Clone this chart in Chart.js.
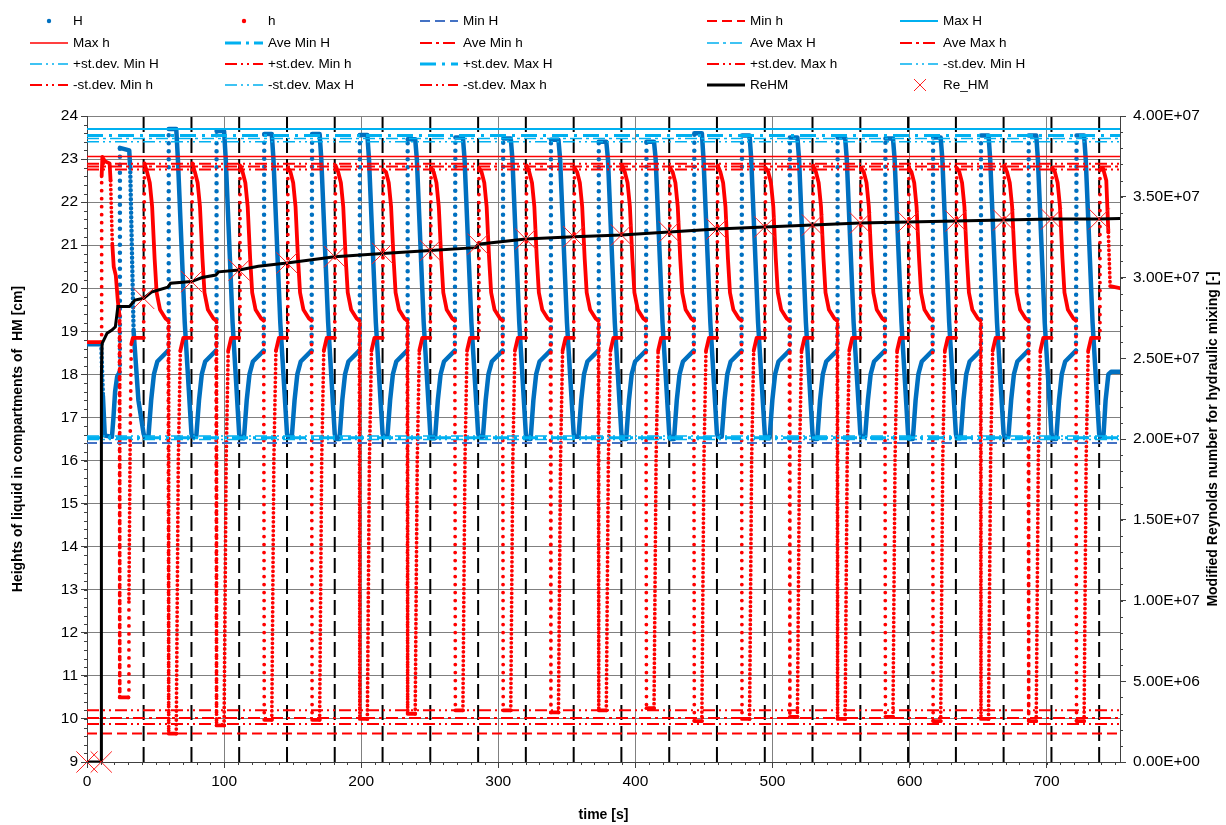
<!DOCTYPE html>
<html>
<head>
<meta charset="utf-8">
<script src="https://cdn.jsdelivr.net/npm/chart.js@4.4.1/dist/chart.umd.min.js"></script>
<style>
  html, body { margin: 0; padding: 0; background: #fff; }
  canvas { display: block; }
</style>
</head>
<body>
<canvas id="hmChart" width="1226" height="825"></canvas>
<script>
// start of every filling cycle [s] (dashed lines / Re_HM markers)
const cycleStart = [10.4, 41.3, 76.2, 111.0, 145.9, 180.7, 215.6, 250.4, 285.3, 320.1, 355.0,
  389.8, 424.7, 459.5, 494.4, 529.2, 564.1, 598.9, 633.8, 668.6, 703.5, 738.3];

// first cycle, read point by point
const hFirstT = [0, 10.3, 10.7, 11.2, 13.0, 16.5, 17.2, 18.5, 19.5, 21.0, 22.5, 23.6, 23.9, 30.2, 30.6, 31.5, 32.3, 33.5];
const hFirstV = [18.75, 18.75, 22.6, 23.05, 22.95, 22.9, 22.5, 21.0, 20.5, 20.3, 19.7, 19.4, 10.5, 10.5, 12.8, 16.5, 18.7, 18.85];
const HFirstT = [0, 10.4, 11.6, 13.0, 18.2, 19.3, 20.5, 22.0, 23.7, 24.0, 30.8, 31.5, 34.0, 37.5];
const HFirstV = [18.7, 18.7, 17.5, 16.58, 16.55, 17.0, 17.6, 17.95, 18.05, 23.26, 23.2, 22.8, 19.0, 17.4];

// shape of one regular cycle (time after cycle start, level)
const hShapeDt = [0, 0.6, 2.5, 4.5, 6.2, 8.0, 9.5, 12.0, 16.0, 17.9, 18.3, 23.8, 25.3, 26.8, 29.0];
const hShapeV = [18.85, 'top', 22.7, 22.45, 21.9, 20.7, 19.9, 19.5, 19.3, 19.25, 'bottom', 'bottom', 16.0, 18.55, 18.85];
const HShapeDt = [0, 0.8, 3.5, 5.5, 7.5, 10.0, 17.9, 18.3, 23.8, 25.0, 30.0];
const HShapeV = [16.62, 'bottom', 'bottom', 17.4, 18.0, 18.3, 18.55, 'top', 'top', 23.0, 19.2];

// per cycle levels, cycles 2..21
const hTop = [22.9, 22.9, 22.85, 22.8, 22.85, 22.75, 22.8, 22.8, 22.85, 22.8, 22.85, 22.8, 22.85, 22.8, 22.85, 22.8, 22.8, 22.8, 22.85, 22.8];
const hBottom = [9.66, 9.85, 9.98, 9.98, 10.0, 10.12, 10.2, 10.2, 10.15, 10.2, 10.25, 9.95, 10.0, 10.05, 10.0, 10.05, 9.95, 10.0, 9.95, 9.95];
const HTop = [23.70, 23.65, 23.58, 23.58, 23.56, 23.46, 23.50, 23.48, 23.45, 23.40, 23.40, 23.60, 23.55, 23.50, 23.50, 23.48, 23.50, 23.55, 23.55, 23.55];
const HBottom = [16.55, 16.55, 16.52, 16.55, 16.5, 16.55, 16.52, 16.55, 16.5, 16.55, 16.5, 16.5, 16.55, 16.52, 16.5, 16.55, 16.5, 16.52, 16.55, 16.5];

// last (unfinished) cycle
const hTailT = [738.3, 738.9, 741.0, 743.5, 745.0, 746.3, 753.5];
const hTailV = [18.85, 22.75, 22.8, 22.5, 21.3, 20.05, 20.0];
const HTailT = [738.3, 739.1, 741.5, 743.0, 745.0, 747.0, 753.5];
const HTailV = [16.62, 16.55, 16.6, 17.4, 18.0, 18.06, 18.06];

// statistics of the extremes [cm]
const statLabels = ['Min H', 'Min h', 'Max H', 'Max h', 'Ave Min H', 'Ave Min h', 'Ave Max H', 'Ave Max h',
  '+st.dev. Min H', '+st.dev. Min h', '+st.dev. Max H', '+st.dev. Max h',
  '-st.dev. Min H', '-st.dev. Min h', '-st.dev. Max H', '-st.dev. Max h'];
const statValues = [16.41, 9.66, 23.70, 23.06, 16.53, 10.02, 23.48, 22.83,
  16.57, 10.20, 23.55, 22.89, 16.49, 9.88, 23.40, 22.76];

// modified Reynolds number
const reHmT = [0, 10.3, 10.5, 11.0, 14.6, 18.2, 20.7, 21.5, 22.5, 31.0, 35.0, 41.3, 47.0, 59.0, 61.0, 76.2, 84.0, 94.0, 96.0, 111.0,
  125.0, 145.9, 180.7, 215.6, 250.4, 283.5, 285.3, 320.1, 355.0, 389.8, 424.7, 459.5, 494.4, 529.2, 564.1, 598.9, 633.8, 668.6, 703.5, 738.3, 753.5];
const reHmV = [0, 0, 2.40e7, 2.59e7, 2.654e7, 2.675e7, 2.695e7, 2.75e7, 2.82e7, 2.82e7, 2.86e7, 2.871e7, 2.91e7, 2.94e7, 2.965e7, 2.975e7, 3.0e7, 3.015e7, 3.035e7, 3.046e7,
  3.07e7, 3.09e7, 3.129e7, 3.149e7, 3.167e7, 3.185e7, 3.206e7, 3.238e7, 3.253e7, 3.263e7, 3.282e7, 3.300e7, 3.313e7, 3.325e7, 3.337e7, 3.344e7, 3.350e7, 3.356e7, 3.362e7, 3.362e7, 3.365e7];
const reMarkT = [0, 10.4].concat(cycleStart.slice(1));
const reMarkV = [0, 0, 2.871e7, 2.975e7, 3.046e7, 3.09e7, 3.129e7, 3.149e7, 3.167e7, 3.206e7, 3.238e7, 3.253e7,
  3.263e7, 3.282e7, 3.300e7, 3.313e7, 3.325e7, 3.337e7, 3.344e7, 3.350e7, 3.356e7, 3.362e7, 3.362e7];

const X_MAX = 753.5;
const FONT = '"Liberation Sans", Arial, sans-serif';
const RED = '#FF0000', BLUE = '#0070C0', CYAN = '#00B0F0', MINBLUE = '#4472C4';

function pairs(t, v) { return t.map((x, i) => ({ x, y: v[i] })); }

function series(firstT, firstV, shapeDt, shapeV, tops, bottoms, tailT, tailV) {
  const pts = pairs(firstT, firstV);
  cycleStart.slice(1, 21).forEach((t0, k) => {
    shapeDt.forEach((dt, j) => {
      const s = shapeV[j];
      pts.push({ x: t0 + dt, y: s === 'top' ? tops[k] : s === 'bottom' ? bottoms[k] : s });
    });
  });
  return pts.concat(pairs(tailT, tailV));
}

// steep parts were sampled at a distance -> dots, the fastest jumps very sparse
const dotted = ctx => {
  const dx = Math.abs(ctx.p1.x - ctx.p0.x), dy = Math.abs(ctx.p1.y - ctx.p0.y);
  if (dy < 15 || dy < 30 * dx) return undefined;
  return dx < 1.2 ? [0, 8] : [0, 4.5];
};

const statStyle = {
  'Min H': [MINBLUE, 2, [10, 5]], 'Min h': [RED, 2, [10, 5]],
  'Max H': [CYAN, 2, []], 'Max h': [RED, 1.5, []],
  'Ave Min H': [CYAN, 3, [16, 5, 3, 5]], 'Ave Min h': [RED, 2, [12, 4, 3, 4]],
  'Ave Max H': [CYAN, 1.5, [12, 4, 3, 4]], 'Ave Max h': [RED, 2, [12, 4, 3, 4]],
  '+st.dev. Min H': [CYAN, 1.5, [12, 4, 2, 4, 2, 4]], '+st.dev. Min h': [RED, 2, [12, 4, 2, 4, 2, 4]],
  '+st.dev. Max H': [CYAN, 3, [16, 6, 3, 6]], '+st.dev. Max h': [RED, 2, [12, 4, 2, 4, 2, 4]],
  '-st.dev. Min H': [CYAN, 1.5, [12, 4, 2, 4, 2, 4]], '-st.dev. Min h': [RED, 2, [12, 4, 2, 4, 2, 4]],
  '-st.dev. Max H': [CYAN, 1.5, [12, 4, 2, 4, 2, 4]], '-st.dev. Max h': [RED, 2, [12, 4, 2, 4, 2, 4]]
};

// legend order follows the original workbook
const legendOrder = ['H', 'h', 'Min H', 'Min h', 'Max H', 'Max h', 'Ave Min H', 'Ave Min h', 'Ave Max H', 'Ave Max h',
  '+st.dev. Min H', '+st.dev. Min h', '+st.dev. Max H', '+st.dev. Max h',
  '-st.dev. Min H', '-st.dev. Min h', '-st.dev. Max H', '-st.dev. Max h', 'ReHM', 'Re_HM'];

const datasets = legendOrder.map(label => {
  if (label === 'H' || label === 'h') {
    const big = label === 'H';
    return {
      label, legendMark: 'dot',
      data: big ? series(HFirstT, HFirstV, HShapeDt, HShapeV, HTop, HBottom, HTailT, HTailV)
                : series(hFirstT, hFirstV, hShapeDt, hShapeV, hTop, hBottom, hTailT, hTailV),
      showLine: true, borderColor: big ? BLUE : RED, backgroundColor: big ? BLUE : RED,
      borderWidth: big ? 4.5 : 3.8, pointRadius: 0, borderCapStyle: 'round', borderJoinStyle: 'round',
      segment: { borderDash: dotted }, yAxisID: 'y'
    };
  }
  if (label === 'ReHM') {
    return { label, data: pairs(reHmT, reHmV), showLine: true, borderColor: '#000', borderWidth: 3,
      pointRadius: 0, yAxisID: 'y2' };
  }
  if (label === 'Re_HM') {
    return { label, legendMark: 'cross', data: pairs(reMarkT, reMarkV), showLine: false, clip: false,
      pointStyle: 'crossRot', pointRadius: 15, pointBorderWidth: 1, borderColor: '#FF2020',
      pointBorderColor: '#FF2020', borderWidth: 1, yAxisID: 'y2' };
  }
  const v = statValues[statLabels.indexOf(label)];
  const [color, width, dash] = statStyle[label];
  return { label, data: [{ x: 0, y: v }, { x: X_MAX, y: v }], showLine: true, borderColor: color,
    borderWidth: width, borderDash: dash, pointRadius: 0, yAxisID: 'y' };
});
// later series drawn on top, like the spreadsheet
datasets.forEach((ds, i) => { ds.order = 50 - i; });

// vertical error bars of Re_HM
const bars = [];
cycleStart.slice(1).forEach(t => { bars.push({ x: t, y: 9 }, { x: t, y: 24 }, { x: t, y: null }); });
datasets.push({ label: 'bars', data: bars, showLine: true, spanGaps: false, borderColor: '#000',
  borderWidth: 2, borderDash: [15, 6], pointRadius: 0, yAxisID: 'y', order: 100 });

const legendCols = [30, 225, 420, 707, 900];
const legendRows = [21, 43, 64, 85];

const xlLegend = {
  id: 'xlLegend',
  afterDraw(chart) {
    const ctx = chart.ctx;
    ctx.save();
    ctx.font = '13.5px ' + FONT;
    ctx.textBaseline = 'middle';
    chart.data.datasets.slice(0, 20).forEach((ds, i) => {
      const x0 = legendCols[i % 5], y = legendRows[Math.floor(i / 5)];
      if (ds.legendMark === 'dot') {
        ctx.fillStyle = ds.borderColor;
        ctx.beginPath(); ctx.arc(x0 + 19, y, 2.2, 0, Math.PI * 2); ctx.fill();
      } else if (ds.legendMark === 'cross') {
        ctx.strokeStyle = ds.borderColor; ctx.lineWidth = 1;
        ctx.beginPath();
        ctx.moveTo(x0 + 14, y - 6); ctx.lineTo(x0 + 26, y + 6);
        ctx.moveTo(x0 + 26, y - 6); ctx.lineTo(x0 + 14, y + 6);
        ctx.stroke();
      } else {
        ctx.strokeStyle = ds.borderColor; ctx.lineWidth = ds.borderWidth;
        ctx.setLineDash(ds.borderDash || []);
        ctx.beginPath(); ctx.moveTo(x0, y); ctx.lineTo(x0 + 38, y); ctx.stroke();
        ctx.setLineDash([]);
      }
      ctx.fillStyle = '#000';
      ctx.fillText(ds.label, x0 + 43, y);
    });
    ctx.restore();
  }
};

const axisDecor = {
  id: 'axisDecor',
  afterDraw(chart) {
    const { ctx, chartArea: a, scales } = chart;
    ctx.save();
    // minor ticks
    ctx.strokeStyle = '#404040'; ctx.lineWidth = 1;
    ctx.beginPath();
    for (let v = 9; v <= 24.001; v += 0.2) {
      const y = Math.round(scales.y.getPixelForValue(v)) + 0.5;
      ctx.moveTo(a.left - 3, y); ctx.lineTo(a.left, y);
    }
    for (let v = 0; v <= 4e7; v += 1e6) {
      const y = Math.round(scales.y2.getPixelForValue(v)) + 0.5;
      ctx.moveTo(a.right, y); ctx.lineTo(a.right + 3, y);
    }
    for (let v = 0; v <= X_MAX; v += 10) {
      const x = Math.round(scales.x.getPixelForValue(v)) + 0.5;
      ctx.moveTo(x, a.bottom); ctx.lineTo(x, a.bottom + 3);
    }
    ctx.stroke();
    // axis titles
    ctx.fillStyle = '#000';
    ctx.font = 'bold 14px ' + FONT;
    ctx.textAlign = 'center'; ctx.textBaseline = 'middle';
    const cy = (a.top + a.bottom) / 2;
    ctx.fillText('time [s]', (a.left + a.right) / 2, 815);
    ctx.save();
    ctx.translate(18, cy); ctx.rotate(-Math.PI / 2);
    ctx.fillText('Heights of liquid in compartments of  HM [cm]', 0, 0);
    ctx.restore();
    ctx.save();
    ctx.translate(1213, cy); ctx.rotate(-Math.PI / 2);
    ctx.fillText('Modified Reynolds number for hydraulic mixing [-]', 0, 0);
    ctx.restore();
    ctx.restore();
  }
};

const sci = v => {
  const [m, e] = v.toExponential(2).split('e');
  const n = parseInt(e, 10);
  return m + 'E' + (n < 0 ? '-' : '+') + String(Math.abs(n)).padStart(2, '0');
};

const tickFont = { family: FONT, size: 15.5 };

new Chart(document.getElementById('hmChart'), {
  type: 'scatter',
  data: { datasets },
  options: {
    responsive: false,
    animation: false,
    layout: { padding: { top: 116, left: 0, right: 0, bottom: 0 } },
    plugins: { legend: { display: false }, tooltip: { enabled: false } },
    scales: {
      x: {
        type: 'linear', min: 0, max: X_MAX,
        afterBuildTicks: s => { s.ticks = s.ticks.filter(t => t.value % 100 === 0); },
        afterFit: s => { s.height = 63; },
        ticks: { stepSize: 100, color: '#000', font: tickFont, padding: 4, maxRotation: 0 },
        grid: { color: '#808080', lineWidth: 1, tickLength: 6, tickColor: '#404040' },
        border: { color: '#404040', width: 1 }
      },
      y: {
        type: 'linear', position: 'left', min: 9, max: 24,
        afterFit: s => { s.width = 87; },
        ticks: { stepSize: 1, color: '#000', font: tickFont, padding: 3 },
        grid: { color: '#808080', lineWidth: 1, tickLength: 6, tickColor: '#404040' },
        border: { color: '#404040', width: 1 }
      },
      y2: {
        type: 'linear', position: 'right', min: 0, max: 4e7,
        afterFit: s => { s.width = 106; },
        ticks: { stepSize: 5e6, color: '#000', font: tickFont, padding: 7, callback: sci },
        grid: { drawOnChartArea: false, tickLength: 6, tickColor: '#404040' },
        border: { color: '#404040', width: 1 }
      }
    }
  },
  plugins: [xlLegend, axisDecor]
});
</script>
</body>
</html>
